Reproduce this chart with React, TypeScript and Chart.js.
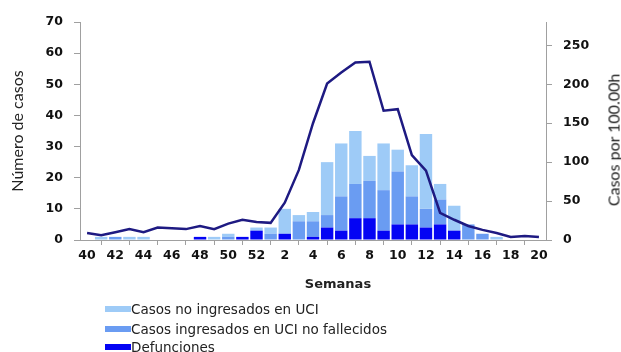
import React, { useEffect, useRef } from "react";
import { Chart, registerables } from "chart.js";

Chart.register(...registerables);

const weeks = [
  "40", "41", "42", "43", "44", "45", "46", "47", "48", "49", "50", "51", "52",
  "1", "2", "3", "4", "5", "6", "7", "8", "9", "10", "11", "12", "13", "14", "15", "16", "17", "18", "19", "20",
];
const defunciones = [0, 0, 0, 0, 0, 0, 0, 0, 1, 0, 0, 1, 3, 0, 2, 0, 1, 4, 3, 7, 7, 3, 5, 5, 4, 5, 3, 0, 0, 0, 0, 0, 0];
const ingresadosUci = [0, 0, 1, 0, 0, 0, 0, 0, 0, 0, 1, 0, 0, 2, 0, 6, 5, 4, 11, 11, 12, 13, 17, 9, 6, 8, 0, 5, 2, 0, 0, 0, 0];
const noIngresadosUci = [0, 1, 0, 1, 1, 0, 0, 0, 0, 1, 1, 0, 1, 2, 8, 2, 3, 17, 17, 17, 8, 15, 7, 10, 24, 5, 8, 0, 0, 1, 0, 0, 0];
const tasa = [9, 6, 10, 14, 10, 16, 15, 14, 18, 14, 21, 26, 23, 22, 48, 90, 150, 201, 215, 228, 229, 166, 168, 109, 89, 35, 26, 18, 13, 9, 4, 5, 4];

const leftTicksMax = 70;
const rightTicksMax = 280;

const LIGHT = "#9ecbf7";
const MEDIUM = "#6a9cf2";
const DARK = "#0404f4";
const LINE = "#1e1a82";
const AXIS = "#a0a0a0";

const legendItems = [
  { label: "Casos no ingresados en UCI", color: LIGHT },
  { label: "Casos ingresados en UCI no fallecidos", color: MEDIUM },
  { label: "Defunciones", color: DARK },
];

export default function App() {
  const canvasRef = useRef<HTMLCanvasElement | null>(null);

  useEffect(() => {
    document.body.style.margin = "0";
    const canvas = canvasRef.current;
    if (!canvas) return;
    const tickFont = { family: "'DejaVu Sans', sans-serif", size: 12.5, weight: "bold" as const };
    const chart = new Chart(canvas, {
      type: "bar",
      data: {
        labels: weeks,
        datasets: [
          { label: "Defunciones", data: defunciones, backgroundColor: DARK, stack: "s", yAxisID: "y", order: 1 },
          { label: "Casos ingresados en UCI no fallecidos", data: ingresadosUci, backgroundColor: MEDIUM, stack: "s", yAxisID: "y", order: 1 },
          { label: "Casos no ingresados en UCI", data: noIngresadosUci, backgroundColor: LIGHT, stack: "s", yAxisID: "y", order: 1 },
          {
            type: "line",
            label: "Casos por 100.000h",
            data: tasa,
            borderColor: LINE,
            borderWidth: 2.5,
            pointRadius: 0,
            tension: 0,
            fill: false,
            yAxisID: "y1",
            order: 0,
          } as any,
        ],
      },
      options: {
        responsive: false,
        animation: false,
        devicePixelRatio: 1,
        layout: { padding: { left: 0, right: 0, top: 22, bottom: 88 } },
        datasets: { bar: { barPercentage: 0.88, categoryPercentage: 1.0, borderWidth: 0 } },
        plugins: { legend: { display: false }, tooltip: { enabled: false } },
        scales: {
          x: {
            type: "category",
            stacked: true,
            offset: true,
            grid: { display: true, drawOnChartArea: false, offset: true, tickLength: 5, color: AXIS },
            border: { color: AXIS },
            ticks: {
              autoSkip: false,
              maxRotation: 0,
              minRotation: 0,
              padding: 3,
              color: "#111",
              font: tickFont,
              callback: (_v: any, i: number) => (i % 2 === 0 ? weeks[i] : null),
            },
            afterFit: (s: any) => {
              s.height = 24;
            },
          },
          y: {
            type: "linear",
            position: "left",
            stacked: true,
            min: 0,
            max: leftTicksMax,
            grid: { drawOnChartArea: false, tickLength: 6, color: AXIS },
            border: { color: AXIS },
            ticks: { stepSize: 10, padding: 11, color: "#111", font: tickFont },
            title: {
              display: true,
              text: "Número de casos",
              color: "#222",
              font: { family: "Lato, sans-serif", size: 16 },
              padding: { top: 8, bottom: 0 },
            },
            afterFit: (s: any) => {
              s.width = 80;
            },
          },
          y1: {
            type: "linear",
            position: "right",
            min: 0,
            max: rightTicksMax,
            grid: { drawOnChartArea: false, tickLength: 6, color: AXIS },
            border: { color: AXIS },
            ticks: { stepSize: 50, includeBounds: false, padding: 11, color: "#111", font: tickFont },
            afterFit: (s: any) => {
              s.width = 75;
            },
          },
        },
      } as any,
    });
    return () => chart.destroy();
  }, []);

  return (
    <div style={{ position: "relative", width: 621, height: 352, overflow: "hidden", background: "#fff" }}>
      <canvas ref={canvasRef} width={621} height={352} style={{ display: "block", width: 621, height: 352 }} />
      <div
        style={{
          position: "absolute",
          left: 613,
          top: 140,
          transform: "translate(-50%, -50%) rotate(-90deg)",
          font: "16px Lato, sans-serif",
          color: "#222",
          whiteSpace: "nowrap",
        }}
      >
        Casos por 100.00h
      </div>
      <div
        style={{
          position: "absolute",
          left: 338,
          top: 283,
          transform: "translate(-50%, -50%)",
          font: "bold 13px 'DejaVu Sans', sans-serif",
          color: "#222",
          whiteSpace: "nowrap",
        }}
      >
        Semanas
      </div>
      {legendItems.map((item, i) => (
        <div
          key={item.label}
          style={{
            position: "absolute",
            left: 105,
            top: [309, 329, 347][i] - 9,
            height: 18,
            display: "flex",
            alignItems: "center",
            whiteSpace: "nowrap",
          }}
        >
          <span style={{ display: "inline-block", width: 26, height: 6, background: item.color }} />
          <span style={{ font: "13.5px 'DejaVu Sans', sans-serif", color: "#222" }}>{item.label}</span>
        </div>
      ))}
    </div>
  );
}
